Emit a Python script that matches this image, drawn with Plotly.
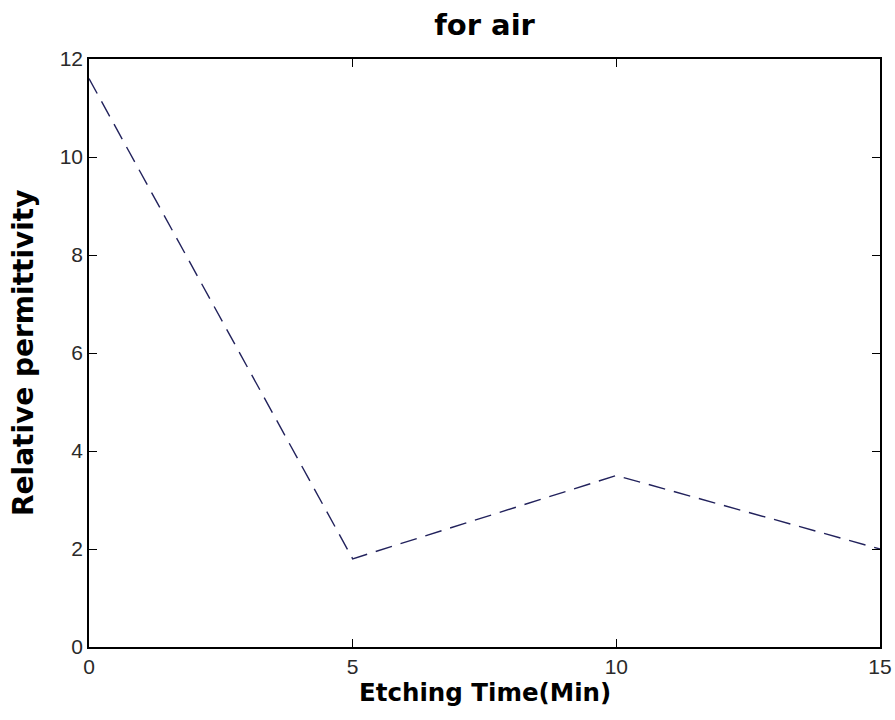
import plotly.graph_objects as go

etching_time = [0, 5, 10, 15]
permittivity = [11.6, 1.8, 3.5, 2.0]
x_ticks = [0, 5, 10, 15]
y_ticks = [0, 2, 4, 6, 8, 10, 12]

W, H = 895, 720

fig = go.Figure()
fig.add_trace(go.Scatter(
    x=etching_time, y=permittivity, mode="lines",
    line=dict(color="#22225c", width=1.4, dash="17px,9px"),
    showlegend=False,
))

axis_common = dict(
    showgrid=False, zeroline=False, showline=True, linecolor="black", linewidth=1.5,
    mirror="ticks", ticks="inside", ticklen=8, tickcolor="black", tickwidth=1,
    automargin=False,
    tickfont=dict(family="Liberation Sans, Arial, sans-serif", size=21, color="#2a2a2a"),
)

title_font = dict(family="DejaVu Sans, sans-serif", color="black")

fig.update_layout(
    width=W, height=H,
    paper_bgcolor="white", plot_bgcolor="white",
    margin=dict(l=89, r=15, t=59, b=73),
    title=dict(text="<b>for air</b>", x=484.5 / W, xanchor="center", xref="container",
               y=1 - 25 / H, yanchor="middle", yref="container",
               font=dict(size=29, **title_font)),
    xaxis=dict(range=[0, 15], tickvals=x_ticks, ticktext=[str(v) for v in x_ticks],
               **axis_common),
    yaxis=dict(range=[0, 12], tickvals=y_ticks, ticktext=[str(v) for v in y_ticks],
               **axis_common),
    annotations=[
        dict(text="<b>Etching Time(Min)</b>", xref="paper", yref="paper",
             x=0.5, y=0, xanchor="center", yanchor="middle", yshift=-45,
             showarrow=False, font=dict(size=24.5, **title_font)),
        dict(text="<b>Relative permittivity</b>", xref="paper", yref="paper",
             x=0, y=0.5, xanchor="center", yanchor="middle", xshift=-66,
             textangle=-90, showarrow=False, font=dict(size=28, **title_font)),
    ],
)

fig.write_html(
    "out.html",
    config={"displayModeBar": False},
    post_script="document.body.style.margin='0';document.body.style.overflow='hidden';",
)
